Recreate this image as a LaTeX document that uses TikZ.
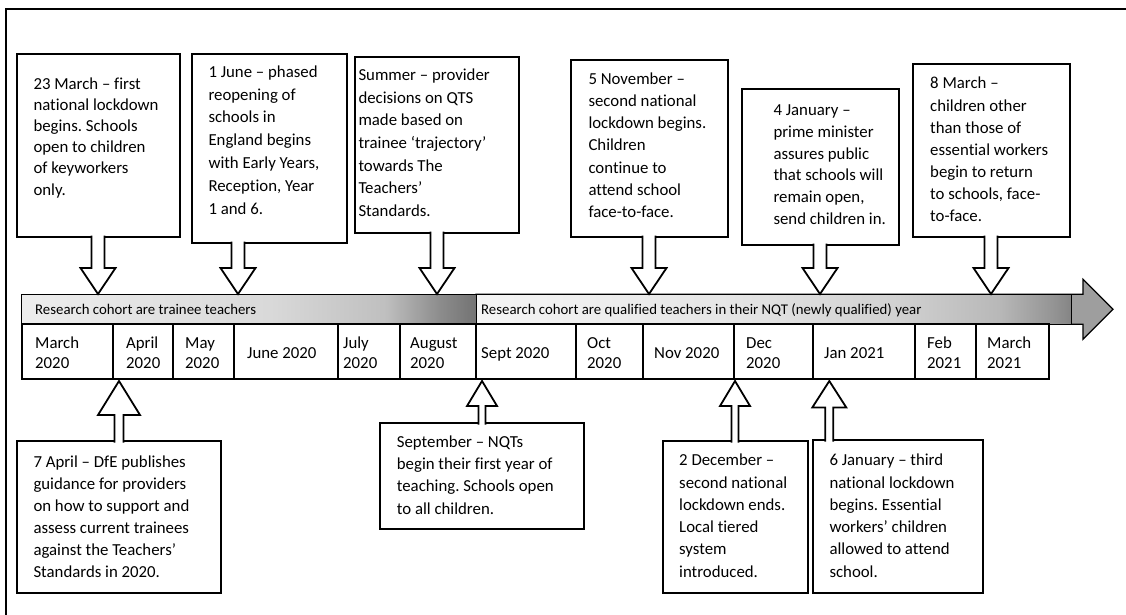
\documentclass[tikz,border=0pt]{standalone}
\usepackage{fontspec}
\setmainfont{Carlito}[Ligatures=NoCommon]
\frenchspacing
\usetikzlibrary{calc}
\pgfdeclarehorizontalshading{bandone}{100bp}{color(0bp)=(black!7); color(25bp)=(black!7); color(52.5bp)=(black!15); color(65bp)=(black!25); color(71bp)=(black!45); color(75bp)=(black!55); color(100bp)=(black!55)}
\pgfdeclarehorizontalshading{bandtwo}{100bp}{color(0bp)=(black!4); color(25bp)=(black!4); color(46bp)=(black!10); color(60.5bp)=(black!18); color(69bp)=(black!28); color(73.5bp)=(black!42); color(75bp)=(black!48); color(100bp)=(black!48)}
% #1 box node, #2 tip coordinate, #3 shaft half width, #4 head half width, #5 head height
\newcommand\hollowdown[5]{%
  \draw[hollow] ($(#2 |- #1.south)+(-#3,-1.5)$) -- ($(#2)+(-#3,-#5)$) -- ($(#2)+(-#4,-#5)$) -- (#2) -- ($(#2)+(#4,-#5)$) -- ($(#2)+(#3,-#5)$) -- ($(#2 |- #1.south)+(#3,-1.5)$);}
\newcommand\hollowup[5]{%
  \draw[hollow] ($(#2 |- #1.north)+(-#3,1.5)$) -- ($(#2)+(-#3,#5)$) -- ($(#2)+(-#4,#5)$) -- (#2) -- ($(#2)+(#4,#5)$) -- ($(#2)+(#3,#5)$) -- ($(#2 |- #1.north)+(#3,1.5)$);}
\begin{document}
\begin{tikzpicture}[x=1pt,y=-1pt,
  box/.style={draw, line width=1.8pt, fill=white, rectangle, outer sep=0pt, inner sep=0pt, anchor=north west},
  hollow/.style={draw, line width=1.8pt, fill=white, line join=miter},
  txt/.style={anchor=north west, inner sep=0pt, align=left, font=\fontsize{16.8}{22.3}\selectfont},
  mon/.style={anchor=north west, inner sep=0pt, align=left, font=\fontsize{16.8}{20}\selectfont},
  bandtxt/.style={anchor=base west, inner sep=0pt, font=\fontsize{14.8}{18}\selectfont},
  band/.style={draw, line width=1pt, shade, rectangle, outer sep=0pt, inner sep=0pt, anchor=north west, minimum height=30pt}]
\useasboundingbox (0,0) rectangle (1126,614);
\clip (0,0) rectangle (1126,614);
% outer frame
\draw[line width=1.5pt] (6,9) rectangle (1140,630);
% big timeline arrow
\draw[line width=1.2pt, fill=black!38, line join=miter] (476,294.3) -- (1083,294.3) -- (1083,279.3) -- (1113,309.3) -- (1083,339.3) -- (1083,324.3) -- (476,324.3) -- cycle;
\node[band, shading=bandone, minimum width=454.3pt] (band1) at (21.7,294.3) {};
\node[band, shading=bandtwo, minimum width=595pt] (band2) at (476,294.3) {};
\node[bandtxt] (bt1) at (35,314) {Research cohort are trainee teachers};
\node[bandtxt] (bt2) at (481,314) {Research cohort are qualified teachers in their NQT (newly qualified) year};
% month row
\draw[line width=1.8pt] (21.7,324.3) rectangle (1049.3,379);
\foreach \x in {112.7,172.7,234,338,400,476,576,643,734.3,813.3,915.3,976}
  \draw[line width=1.8pt] (\x,324.3) -- (\x,379);
\node[mon] (m1) at (35,334) {\strut March\\2020};
\node[mon] (m2) at (126,334) {\strut April\\2020};
\node[mon] (m3) at (185,334) {\strut May\\2020};
\node[mon] (m4) at (247,344) {\strut June 2020};
\node[mon] (m5) at (343,334) {\strut July\\2020};
\node[mon] (m6) at (410,334) {\strut August\\2020};
\node[mon] (m7) at (481,344) {\strut Sept 2020};
\node[mon] (m8) at (587,334) {\strut Oct\\2020};
\node[mon] (m9) at (654,344) {\strut Nov 2020};
\node[mon] (m10) at (746,334) {\strut Dec\\2020};
\node[mon] (m11) at (824,344) {\strut Jan 2021};
\node[mon] (m12) at (927,334) {\strut Feb\\2021};
\node[mon] (m13) at (987,334) {\strut March\\2021};
% arrow tips
\coordinate (t1) at (98,294);
\coordinate (t2) at (238,294);
\coordinate (t3) at (437,294);
\coordinate (t4) at (649,294);
\coordinate (t5) at (820,294);
\coordinate (t6) at (991,294);
\coordinate (tA) at (119,381);
\coordinate (tS) at (482,381);
\coordinate (tD) at (735,381);
\coordinate (tJ) at (829.3,381);
% top boxes
\node[box, minimum width=163pt, minimum height=183pt] (b1) at (17,54) {};
\node[box, minimum width=155pt, minimum height=189pt] (b2) at (192,54) {};
\node[box, minimum width=164pt, minimum height=176pt] (b3) at (355,57) {};
\node[box, minimum width=157pt, minimum height=177pt] (b4) at (571,60) {};
\node[box, minimum width=157pt, minimum height=156pt] (b5) at (742,89) {};
\node[box, minimum width=157pt, minimum height=173pt] (b6) at (913,64) {};
\hollowdown{b1}{t1}{6.5}{17.5}{26}
\hollowdown{b2}{t2}{6.5}{17.5}{26}
\hollowdown{b3}{t3}{6.5}{17.5}{26}
\hollowdown{b4}{t4}{6.5}{17.5}{26}
\hollowdown{b5}{t5}{6.5}{17.5}{26}
\hollowdown{b6}{t6}{6.5}{17.5}{26}
% bottom boxes
\node[box, minimum width=204pt, minimum height=152pt] (bA) at (17,441) {};
\node[box, minimum width=204pt, minimum height=106pt] (bS) at (380,423) {};
\node[box, minimum width=145pt, minimum height=152pt] (bD) at (663,441) {};
\node[box, minimum width=170pt, minimum height=153pt] (bJ) at (813,440) {};
\hollowup{bA}{tA}{4.5}{21}{34}
\hollowup{bS}{tS}{3.5}{15}{25}
\hollowup{bD}{tD}{3.5}{15}{25}
\hollowup{bJ}{tJ}{4}{17}{26.5}
% texts
\node[txt, font=\fontsize{16.8}{21.2}\selectfont] (x1) at (33.3,74) {\strut 23 March – first\\national lockdown\\begins. Schools\\open to children\\of keyworkers\\only.};
\node[txt, font=\fontsize{16.8}{22.8}\selectfont] (x2) at (208.3,61.2) {\strut 1 June – phased\\reopening of\\schools in\\England begins\\with Early Years,\\Reception, Year\\1 and 6.};
\node[txt, font=\fontsize{16.8}{22.6}\selectfont] (x3) at (358.3,64.7) {\strut Summer – provider\\decisions on QTS\\made based on\\trainee ‘trajectory’\\towards The\\Teachers’\\Standards.};
\node[txt] (x4) at (588.3,68.2) {\strut 5 November –\\second national\\lockdown begins.\\Children\\continue to\\attend school\\face-to-face.};
\node[txt, font=\fontsize{16.8}{21.7}\selectfont] (x5) at (773.3,100.3) {\strut 4 January –\\prime minister\\assures public\\that schools will\\remain open,\\send children in.};
\node[txt, font=\fontsize{16.8}{22.1}\selectfont] (x6) at (930,73.3) {\strut 8 March –\\children other\\than those of\\essential workers\\begin to return\\to schools, face-\\to-face.};
\node[txt, font=\fontsize{16.8}{22}\selectfont] (xA) at (33.3,451.8) {\strut 7 April – DfE publishes\\guidance for providers\\on how to support and\\assess current trainees\\against the Teachers’\\Standards in 2020.};
\node[txt, font=\fontsize{16.8}{22.2}\selectfont] (xS) at (396.7,431.7) {\strut September – NQTs\\begin their first year of\\teaching. Schools open\\to all children.};
\node[txt] (xD) at (679,449.9) {\strut 2 December –\\second national\\lockdown ends.\\Local tiered\\system\\introduced.};
\node[txt] (xJ) at (829.3,449.9) {\strut 6 January – third\\national lockdown\\begins. Essential\\workers’ children\\allowed to attend\\school.};
\end{tikzpicture}
\end{document}
